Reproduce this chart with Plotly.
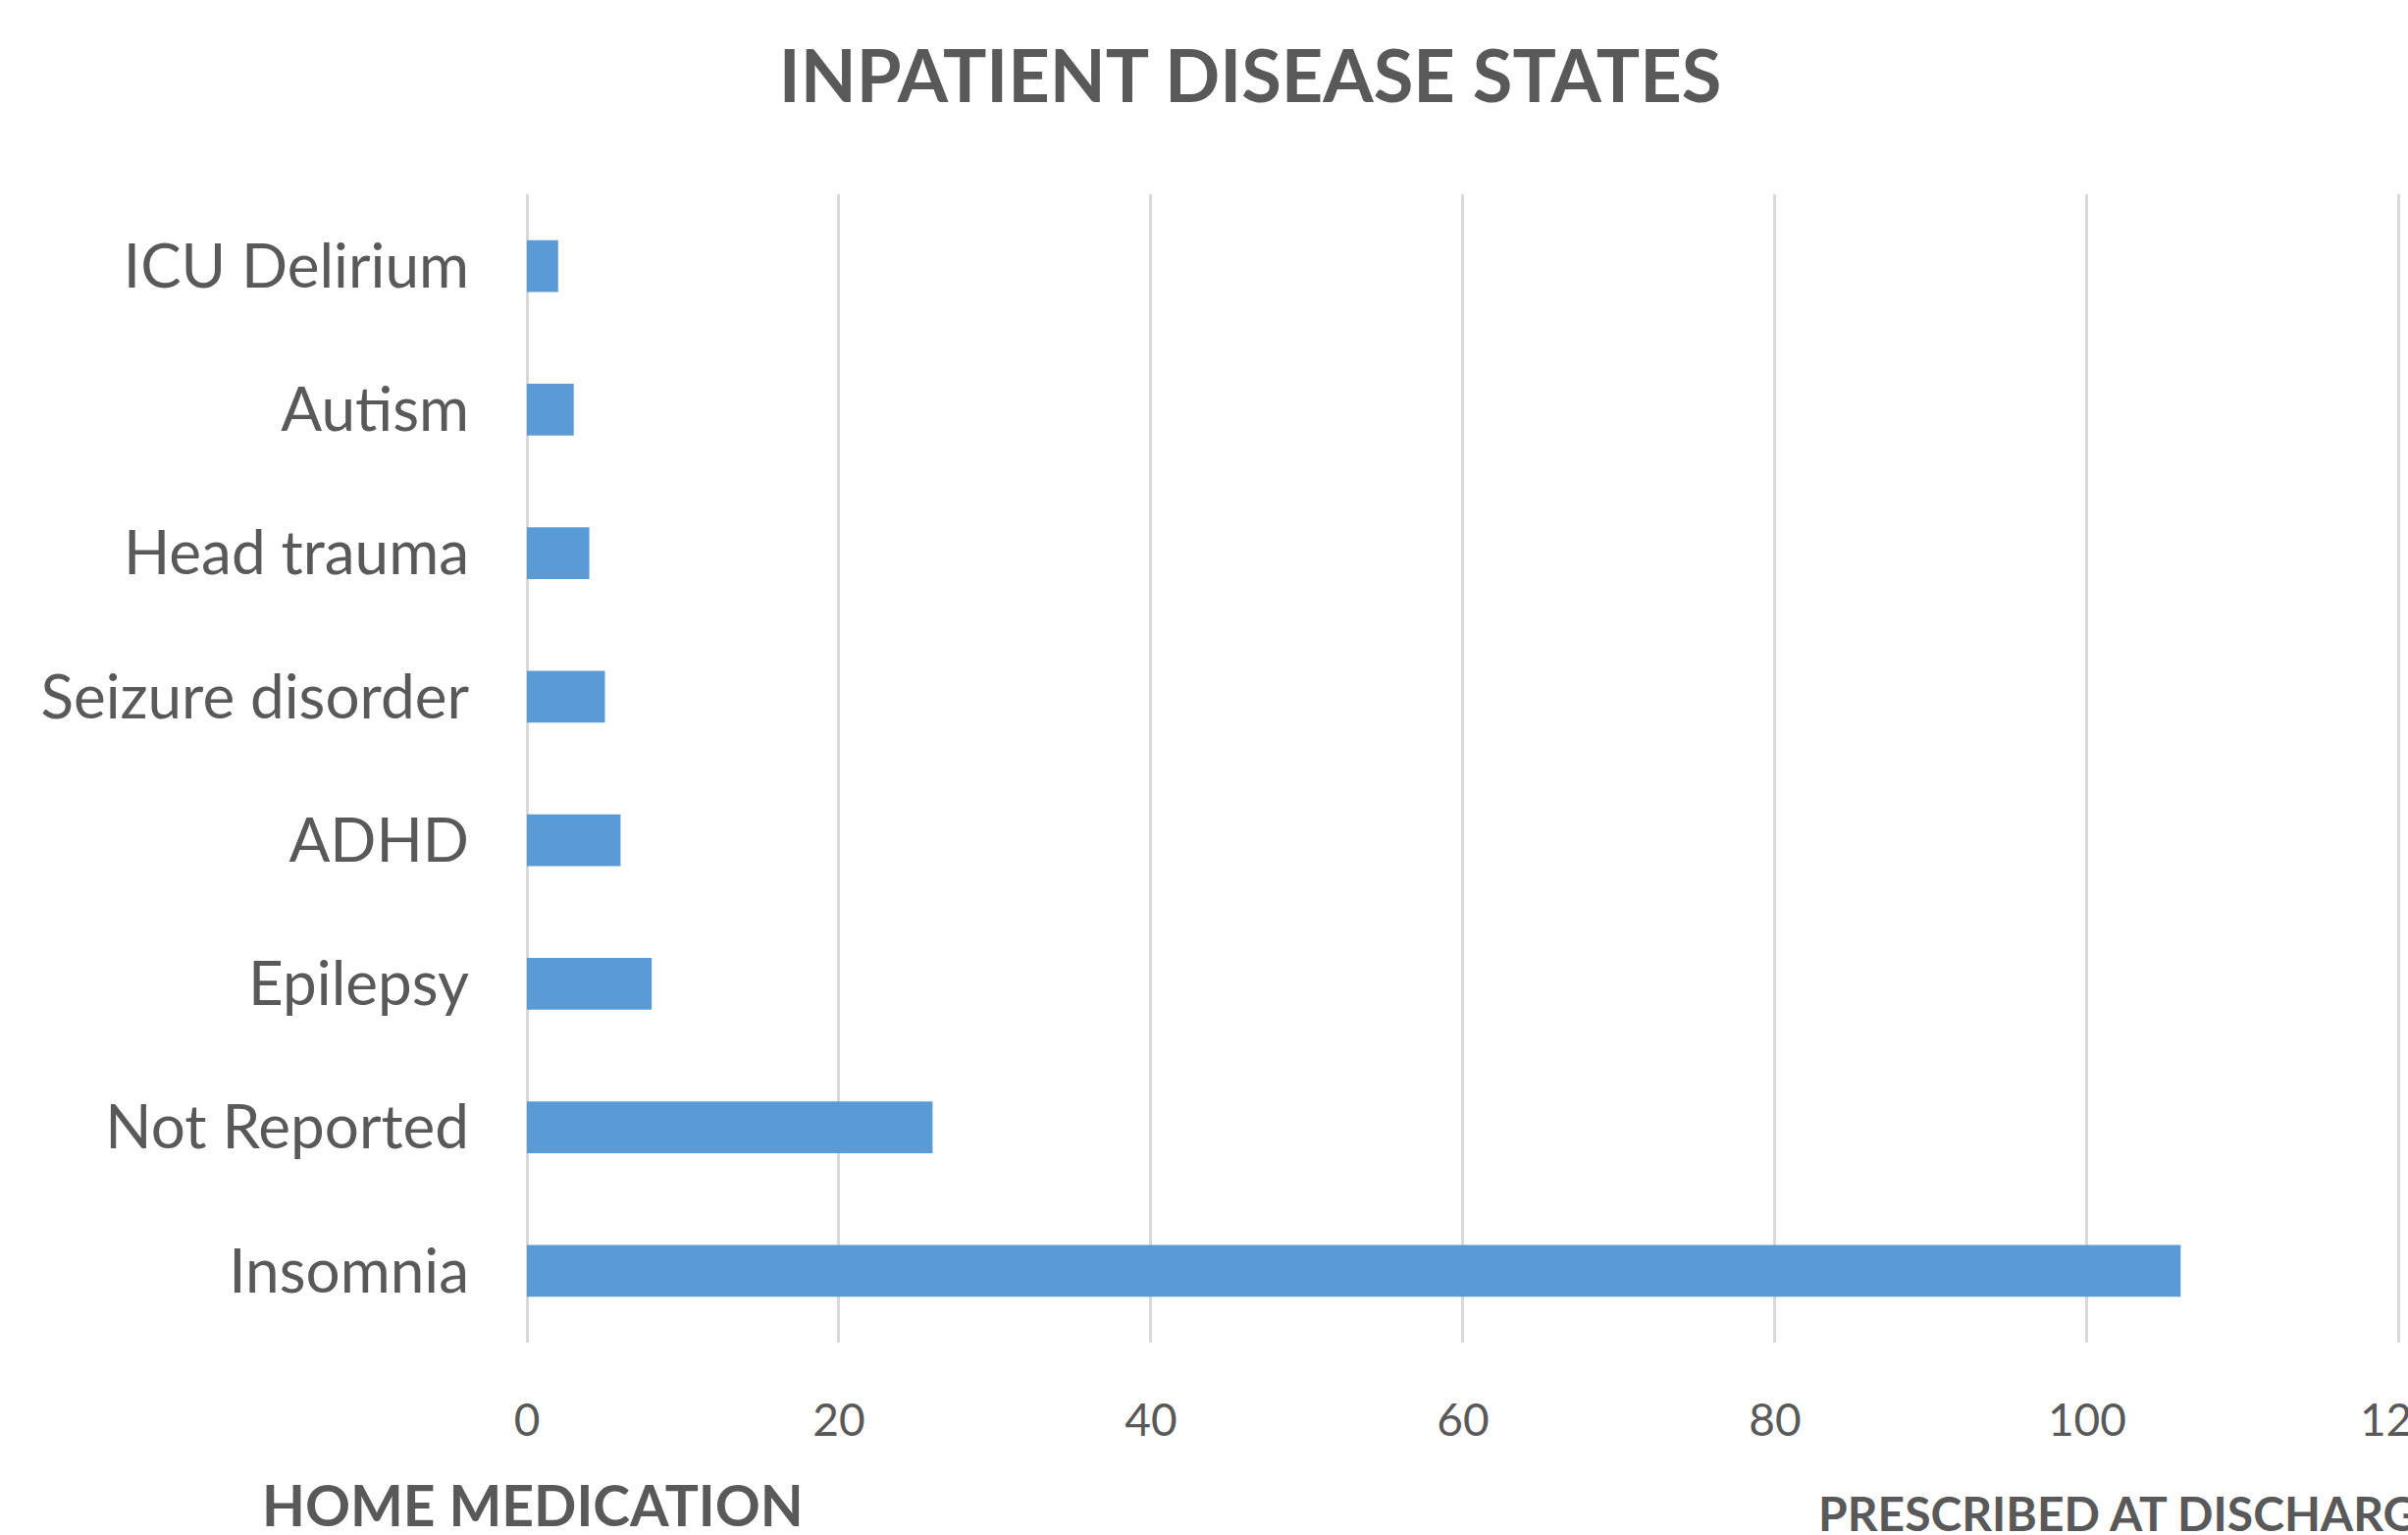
import plotly.graph_objects as go

# Inpatient disease states, listed top to bottom as drawn
conditions = [
    "ICU Delirium",
    "Autism",
    "Head trauma",
    "Seizure disorder",
    "ADHD",
    "Epilepsy",
    "Not Reported",
    "Insomnia",
]
counts = [2, 3, 4, 5, 6, 8, 26, 106]

x_ticks = [0, 20, 40, 60, 80, 100, 120]

TEXT = "#595959"
GRID = "#D9D9D9"
BAR = "#5B9BD5"
FONT = "Lato"

W, H = 2454, 1564
L, T, B = 537, 198, 196
plot_h = H - T - B
plot_w = W - L

fig = go.Figure(
    go.Bar(
        x=counts,
        y=conditions,
        orientation="h",
        marker=dict(color=BAR, line=dict(width=0)),
    )
)

fig.update_layout(
    width=W,
    height=H,
    margin=dict(l=L, r=0, t=T, b=B, autoexpand=False),
    paper_bgcolor="white",
    plot_bgcolor="white",
    bargap=0.64,
    showlegend=False,
    font=dict(family=FONT, color=TEXT),
    title=dict(
        text="<b>INPATIENT DISEASE STATES</b>",
        x=1274 / W,
        xanchor="center",
        xref="container",
        y=1 - 78 / H,
        yanchor="middle",
        yref="container",
        font=dict(family=FONT, size=74, color=TEXT),
    ),
)

fig.update_xaxes(
    range=[0, 120.57],
    tickvals=x_ticks,
    showgrid=True,
    gridcolor=GRID,
    gridwidth=3,
    zeroline=True,
    zerolinecolor=GRID,
    zerolinewidth=3,
    showline=False,
    ticks="",
    ticklabelstandoff=48,
    ticklabeloverflow="allow",
    tickfont=dict(family=FONT, size=46, color=TEXT),
    fixedrange=True,
)

fig.update_yaxes(
    autorange="reversed",
    showgrid=False,
    showline=False,
    ticks="",
    ticklabelstandoff=58,
    tickfont=dict(family=FONT, size=62, color=TEXT),
    fixedrange=True,
)

fig.add_annotation(
    text="<b>HOME MEDICATION</b>",
    xref="paper", yref="paper",
    x=(543 - L) / plot_w,
    y=-(1533 - (H - B)) / plot_h,
    xanchor="center", yanchor="middle",
    showarrow=False,
    font=dict(family=FONT, size=57, color=TEXT),
)

fig.add_annotation(
    text="<b>PRESCRIBED AT DISCHARGE</b>",
    xref="paper", yref="paper",
    x=(1851 - L) / plot_w,
    y=-(1541 - (H - B)) / plot_h,
    xanchor="left", yanchor="middle",
    showarrow=False,
    font=dict(family=FONT, size=48, color=TEXT),
)

fig.write_html("out.html", config={"displayModeBar": False})
